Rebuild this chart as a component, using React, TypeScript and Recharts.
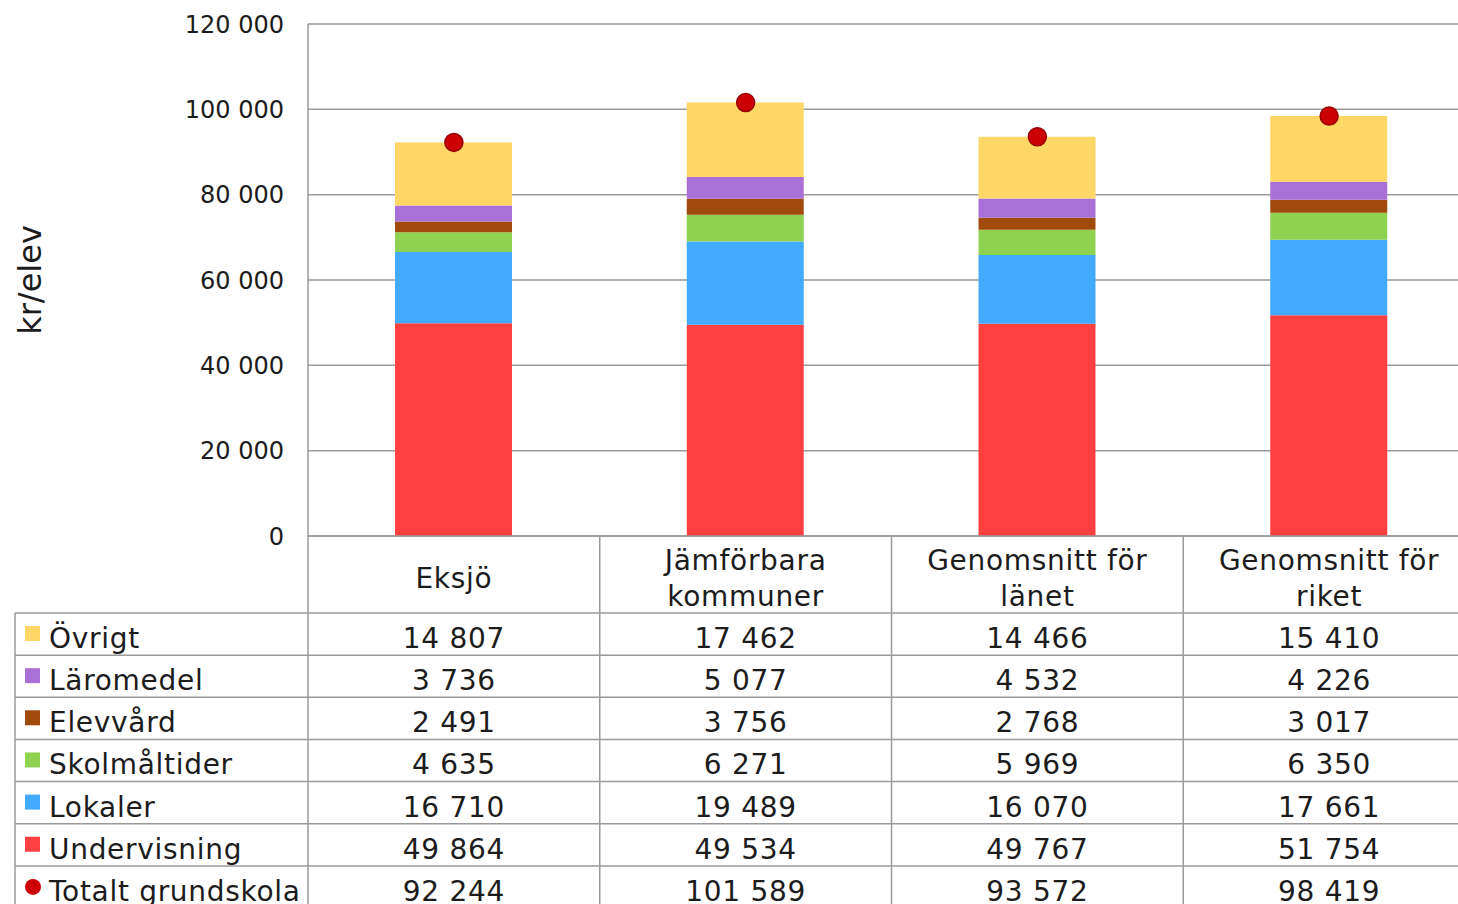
import { Bar, CartesianGrid, ComposedChart, Line, XAxis, YAxis } from "recharts";

const categories = ["Eksjö", "Jämförbara kommuner", "Genomsnitt för länet", "Genomsnitt för riket"];
const categoryLines = [["Eksjö"], ["Jämförbara", "kommuner"], ["Genomsnitt för", "länet"], ["Genomsnitt för", "riket"]];

const ovrigt = [14807, 17462, 14466, 15410];
const laromedel = [3736, 5077, 4532, 4226];
const elevvard = [2491, 3756, 2768, 3017];
const skolmaltider = [4635, 6271, 5969, 6350];
const lokaler = [16710, 19489, 16070, 17661];
const undervisning = [49864, 49534, 49767, 51754];
const totalt = [92244, 101589, 93572, 98419];

const yTicks = [0, 20000, 40000, 60000, 80000, 100000, 120000];

// stacked bottom to top
const series = [
  { key: "Undervisning", values: undervisning, color: "#FF4040" },
  { key: "Lokaler", values: lokaler, color: "#42ABFF" },
  { key: "Skolmåltider", values: skolmaltider, color: "#8FD150" },
  { key: "Elevvård", values: elevvard, color: "#A04A0C" },
  { key: "Läromedel", values: laromedel, color: "#A970D8" },
  { key: "Övrigt", values: ovrigt, color: "#FFD766" },
];

// table rows, top to bottom
const tableRows = [...series].reverse().map((s) => ({ label: s.key, values: s.values, color: s.color, dot: false }));
tableRows.push({ label: "Totalt grundskola", values: totalt, color: "#CC0000", dot: true });

const data = categories.map((name, i) => {
  const row: Record<string, string | number> = { name, Totalt: totalt[i] };
  series.forEach((s) => (row[s.key] = s.values[i]));
  return row;
});

const W = 1480;
const H = 930;
const MARGIN = { top: 24, right: 5, bottom: 0, left: 0 };
const Y_W = 308;
const PLOT_H = 512;
const X_H = H - MARGIN.top - MARGIN.bottom - PLOT_H;
const TABLE_TOP = MARGIN.top + PLOT_H;
const BAND = (W - Y_W - MARGIN.left - MARGIN.right) / categories.length;
const HEADER_H = 77;
const ROW_H = 42.15;
const LINE = "#9a9a9a";
const FONT = "'DejaVu Sans', Verdana, sans-serif";
const TEXT = "#1c1c1c";
const SPACING = 0.7;

const fmt = (v: number) => String(v).replace(/\B(?=(\d{3})+(?!\d))/g, " ");

function TableTick(props: any) {
  const { x, payload } = props;
  const idx = categories.indexOf(payload.value);
  const lines = categoryLines[idx];
  const bottom = TABLE_TOP + X_H;
  const left = x - BAND / 2;
  return (
    <g>
      {idx === 0 && (
        <g>
          <line x1={15} y1={TABLE_TOP + HEADER_H} x2={15} y2={bottom} stroke={LINE} strokeWidth={1.5} />
          {tableRows.map((r, i) => {
            const top = TABLE_TOP + HEADER_H + i * ROW_H;
            return (
              <g key={r.label}>
                <line x1={15} y1={top} x2={W} y2={top} stroke={LINE} strokeWidth={1.5} />
                {r.dot ? (
                  <circle cx={33} cy={top + 21} r={8} fill={r.color} />
                ) : (
                  <rect x={25} y={top + 13} width={15} height={15} fill={r.color} />
                )}
                <text x={49} y={top + 35} fontSize={28} fontFamily={FONT} fill={TEXT} letterSpacing={SPACING}>
                  {r.label}
                </text>
              </g>
            );
          })}
        </g>
      )}
      <line x1={left} y1={TABLE_TOP} x2={left} y2={bottom} stroke={LINE} strokeWidth={1.5} />
      {idx === categories.length - 1 && (
        <line x1={left + BAND} y1={TABLE_TOP} x2={left + BAND} y2={bottom} stroke={LINE} strokeWidth={1.5} />
      )}
      {lines.map((l, j) => (
        <text
          key={l}
          x={x}
          y={TABLE_TOP + (lines.length === 1 ? 52 : 34 + j * 36)}
          textAnchor="middle"
          fontSize={28}
          fontFamily={FONT}
          fill={TEXT}
          letterSpacing={SPACING}
        >
          {l}
        </text>
      ))}
      {tableRows.map((r, i) => (
        <text
          key={r.label}
          x={x}
          y={TABLE_TOP + HEADER_H + i * ROW_H + 35}
          textAnchor="middle"
          fontSize={28}
          fontFamily={FONT}
          fill={TEXT}
          letterSpacing={SPACING}
        >
          {fmt(r.values[idx])}
        </text>
      ))}
    </g>
  );
}

function YLabel() {
  const cy = MARGIN.top + PLOT_H / 2;
  return (
    <text
      x={30}
      y={cy}
      transform={`rotate(-90 30 ${cy})`}
      textAnchor="middle"
      dominantBaseline="central"
      fontSize={32}
      fontFamily={FONT}
      fill={TEXT}
    >
      kr/elev
    </text>
  );
}

export default function App() {
  return (
    <div style={{ position: "fixed", left: 0, top: 0, width: 1458, height: 904, overflow: "hidden", background: "#fff" }}>
      <ComposedChart width={W} height={H} data={data} margin={MARGIN} barSize={117}>
        <CartesianGrid horizontal vertical={false} stroke={LINE} strokeWidth={1.5} />
        <XAxis
          dataKey="name"
          height={X_H}
          interval={0}
          tickLine={false}
          tickSize={0}
          tickMargin={0}
          axisLine={{ stroke: LINE, strokeWidth: 1.5 }}
          tick={<TableTick />}
        />
        <YAxis
          width={Y_W}
          domain={[0, 120000]}
          ticks={yTicks}
          interval={0}
          tickLine={false}
          tickSize={0}
          tickMargin={24}
          axisLine={{ stroke: LINE, strokeWidth: 1.5 }}
          tickFormatter={fmt}
          tick={{ fontSize: 24, fontFamily: FONT, fill: TEXT }}
          label={<YLabel />}
        />
        {series.map((s) => (
          <Bar key={s.key} dataKey={s.key} stackId="a" fill={s.color} isAnimationActive={false} />
        ))}
        <Line
          dataKey="Totalt"
          stroke="none"
          dot={{ r: 9, fill: "#CC0000", stroke: "#9A0000", strokeWidth: 1.5 }}
          activeDot={false}
          isAnimationActive={false}
        />
      </ComposedChart>
    </div>
  );
}
